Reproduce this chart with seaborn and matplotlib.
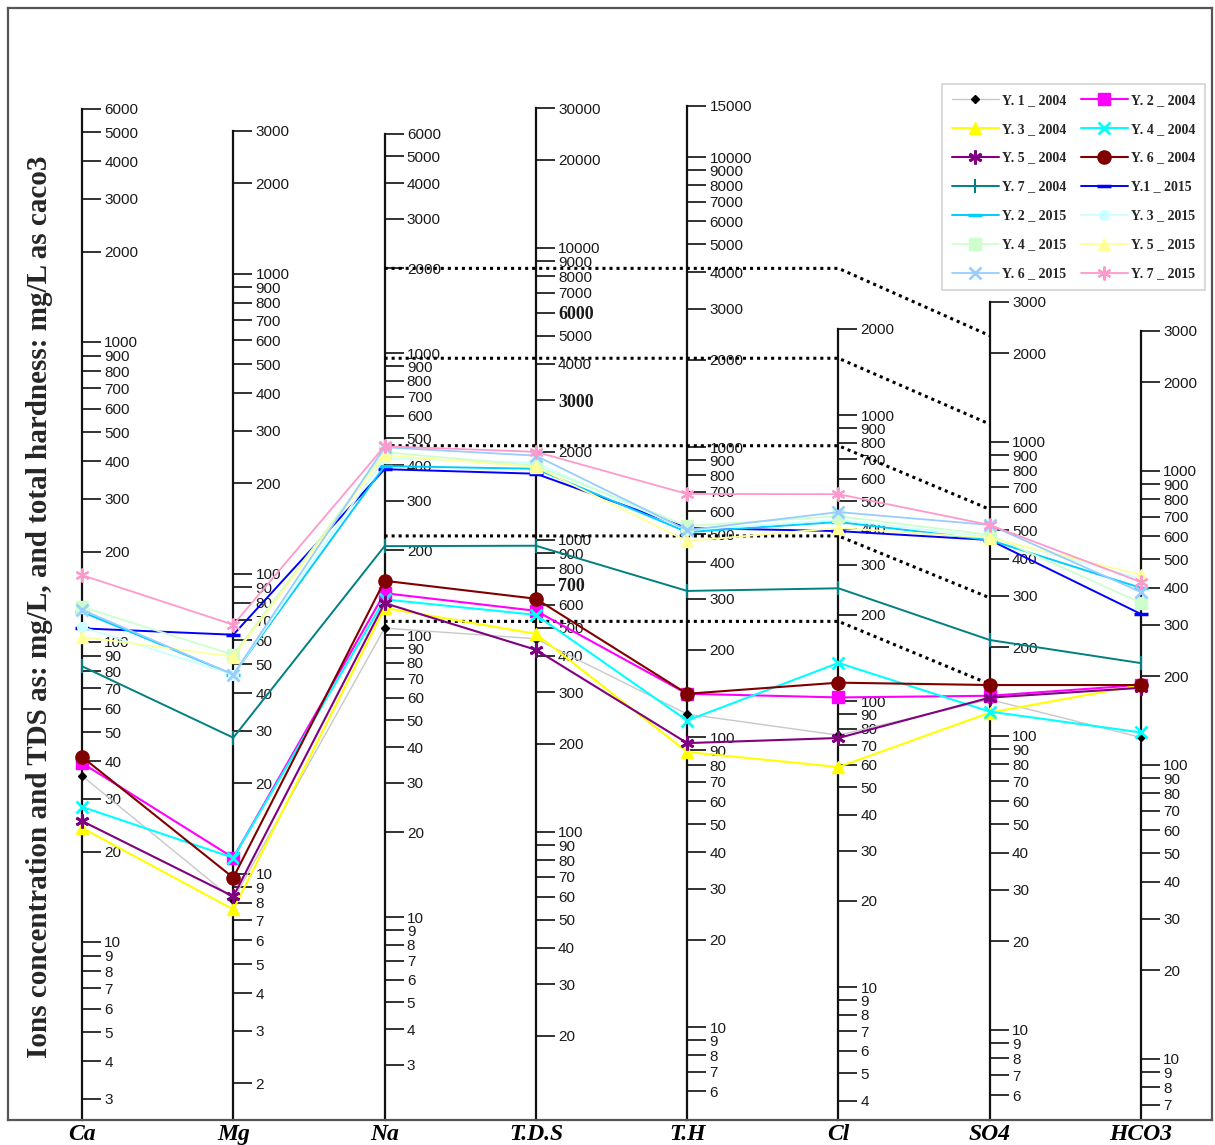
import numpy as np
import matplotlib
matplotlib.use("Agg")
import matplotlib.pyplot as plt
import seaborn as sns
from matplotlib.ticker import FixedLocator, FixedFormatter, NullLocator

# ---------------- data (mg/L, T.H as CaCO3) ----------------
params = ["Ca", "Mg", "Na", "T.D.S", "T.H", "Cl", "SO4", "HCO3"]

y1_2004 = [35.8, 8.2, 106, 458, 120, 76, 133, 124]
y2_2004 = [39.5, 11.3, 141, 571, 141, 103, 137, 187]
y3_2004 = [24.0, 7.6, 125, 476, 88.8, 58.8, 120, 187]
y4_2004 = [28.2, 11.3, 134, 553, 114, 136, 121, 129]
y5_2004 = [25.3, 8.4, 130, 420, 95.3, 74.3, 135, 183]
y6_2004 = [41.4, 9.7, 156, 628, 141, 116, 149, 187]
y7_2004 = [83, 28.4, 207, 954, 319, 248, 212, 222]
y1_2015 = [111, 62.6, 388, 1683, 526, 393, 464, 326]
y2_2015 = [126, 46.1, 398, 1750, 509, 423, 464, 400]
y3_2015 = [112, 46.1, 424, 1836, 517, 430, 475, 430]
y4_2015 = [131, 53.6, 446, 1792, 534, 443, 483, 356]
y5_2015 = [104, 52.9, 435, 1778, 474, 403, 472, 443]
y6_2015 = [128, 46.1, 464, 1941, 517, 458, 522, 387]
y7_2015 = [167, 67.6, 468, 2000, 689, 529, 522, 419]

series_labels = ["Y. 1 _ 2004", "Y. 2 _ 2004", "Y. 3 _ 2004", "Y. 4 _ 2004",
                 "Y. 5 _ 2004", "Y. 6 _ 2004", "Y. 7 _ 2004", "Y.1 _ 2015",
                 "Y. 2 _ 2015", "Y. 3 _ 2015", "Y. 4 _ 2015", "Y. 5 _ 2015",
                 "Y. 6 _ 2015", "Y. 7 _ 2015"]
series_values = [y1_2004, y2_2004, y3_2004, y4_2004, y5_2004, y6_2004, y7_2004,
                 y1_2015, y2_2015, y3_2015, y4_2015, y5_2015, y6_2015, y7_2015]

# guide lines: Na level on the left, SO4 level at the right end
na_guide = [2000, 960, 470, 225, 112]
so4_guide = [2300, 1150, 590, 295, 150]

# ---------------- per-parameter log scales ----------------
axis_lo = [2.55, 1.51, 1.91, 10.3, 4.78, 3.43, 4.94, 6.2]
axis_hi = [6000, 3000, 6000, 30000, 15000, 2000, 3000, 3000]
decade_px = [300, 300, 282, 292, 290, 286, 294, 294]
tick_floor = [3, 2, 3, 20, 6, 4, 6, 7]
extra_ticks = {4: [15000]}

# ---------------- styles ----------------
styles = [
    # color, marker, size, face, edge, mew, lw
    ("#c8c8c8", "D", 4, "black", "black", 1.0, 1.0),
    ("#ff00ff", "s", 8, "#ff00ff", "#ff00ff", 1.0, 1.5),
    ("#ffff00", "^", 9, "#ffff00", "#ffff00", 1.0, 1.5),
    ("#00ffff", "x", 9, "#00ffff", "#00ffff", 2.0, 1.5),
    ("#800080", (6, 2, 0), 10, "#800080", "#800080", 2.0, 1.5),
    ("#800000", "o", 9.5, "#800000", "#800000", 1.0, 1.5),
    ("#008080", "|", 10, "#008080", "#008080", 1.5, 1.4),
    ("#0000ff", "_", 10, "#0000ff", "#0000ff", 2.5, 1.4),
    ("#00ccff", "_", 10, "#00ccff", "#00ccff", 2.5, 1.4),
    ("#ccffff", "o", 7, "#ccffff", "#ccffff", 1.0, 1.3),
    ("#ccffcc", "s", 8, "#ccffcc", "#ccffcc", 1.0, 1.3),
    ("#ffff99", "^", 9, "#ffff99", "#ffff99", 1.0, 1.3),
    ("#99ccff", "x", 9, "#99ccff", "#99ccff", 2.0, 1.3),
    ("#ff99cc", (6, 2, 0), 10, "#ff99cc", "#ff99cc", 1.5, 1.3),
]

sns.set_style("white")
plt.rcParams["font.family"] = ["Liberation Sans", "DejaVu Sans"]

W, H = 1215, 1145
fig = plt.figure(figsize=(W / 100, H / 100), dpi=100)
fig.patch.set_facecolor("white")

frame_left, frame_top, frame_right, frame_bottom = 8, 8, 1212, 1120
ax = fig.add_axes([frame_left / W, (H - frame_bottom) / H,
                   (frame_right - frame_left) / W, (frame_bottom - frame_top) / H])
ax.set_xlim(-0.489, 7.469)
ax.set_ylim(0, 1)
ax.patch.set_alpha(0)
ax.set_zorder(3)
for sp in ax.spines.values():
    sp.set_visible(True)
    sp.set_color("#555555")
    sp.set_linewidth(1.6)
ax.set_yticks([])
ax.set_xticks(range(len(params)))
ax.set_xticklabels(params, fontsize=17, fontstyle="italic", fontweight="bold",
                   family="Liberation Serif")
ax.tick_params(axis="x", length=0, pad=3, colors="black")


def log_ticks(lo, hi):
    out = []
    for k in range(0, 6):
        for n in range(1, 10):
            v = n * 10 ** k
            if lo <= v <= hi:
                out.append(v)
    return out


# one thin log axis per parameter, standing on the bottom of the frame
vaxes = []
for i in range(len(params)):
    xd = ax.transData.transform((i, 0))[0]
    h = decade_px[i] * np.log10(axis_hi[i] / axis_lo[i])
    va = fig.add_axes([xd / W - 1e-4, (H - frame_bottom) / H, 1e-4, h / H])
    va.set_zorder(1)
    va.patch.set_alpha(0)
    va.set_yscale("log")
    va.set_ylim(axis_lo[i], axis_hi[i])
    va.set_xlim(0, 1)
    ticks = sorted(set(log_ticks(tick_floor[i], axis_hi[i]) + extra_ticks.get(i, [])))
    va.yaxis.set_major_locator(FixedLocator(ticks))
    va.yaxis.set_major_formatter(FixedFormatter([str(int(t)) for t in ticks]))
    va.yaxis.set_minor_locator(NullLocator())
    va.yaxis.tick_right()
    va.tick_params(axis="y", which="major", direction="out", length=14, width=1.3,
                   pad=2, labelsize=11, color="#222222", labelcolor="#1a1a1a")
    va.set_xticks([])
    for name, sp in va.spines.items():
        sp.set_visible(name == "right")
    va.spines["right"].set_linewidth(1.6)
    va.spines["right"].set_color("#111111")
    if params[i] == "T.D.S":
        for lbl in va.get_yticklabels():
            if lbl.get_text() in ("6000", "3000", "700"):
                lbl.set_fontfamily("Liberation Serif")
                lbl.set_fontweight("bold")
                lbl.set_fontsize(13)
    vaxes.append(va)


def to_frame(i, v):
    disp = vaxes[i].transData.transform((1.0, v))
    return ax.transData.inverted().transform(disp)[1]


# dotted guide lines (Na -> Cl horizontal, then down to SO4)
for na_v, so4_v in zip(na_guide, so4_guide):
    y0 = to_frame(2, na_v)
    y1 = to_frame(6, so4_v)
    ax.plot([2, 5, 6], [y0, y0, y1], color="black", lw=2.2,
            linestyle=(0, (1, 1.3)), zorder=1.5)

# data lines
handles = []
xs = np.arange(len(params))
for lab, vals, st in zip(series_labels, series_values, styles):
    color, mk, ms, mfc, mec, mew, lw = st
    ys = np.array([to_frame(i, v) for i, v in enumerate(vals)])
    sns.lineplot(x=xs, y=ys, ax=ax, color=color, marker=mk, markersize=ms,
                 markerfacecolor=mfc, markeredgecolor=mec, markeredgewidth=mew,
                 linewidth=lw, label=lab, legend=False, sort=False, zorder=2)
    handles.append(ax.lines[-1])

order = [0, 2, 4, 6, 8, 10, 12, 1, 3, 5, 7, 9, 11, 13]
leg = ax.legend([handles[k] for k in order], [series_labels[k] for k in order],
                ncol=2, loc="upper left",
                bbox_to_anchor=(935 / W, 1 - 77 / H), bbox_transform=fig.transFigure,
                prop={"family": "Liberation Serif", "weight": "bold", "size": 10},
                frameon=True, fancybox=False, edgecolor="#c8c8c8",
                handlelength=3.4, labelspacing=1.15, columnspacing=1.0,
                handletextpad=0.25, borderpad=0.7, numpoints=1)
leg.get_frame().set_linewidth(1.2)

fig.text(40 / W, 1 - 607 / H,
         "Ions concentration and TDS as: mg/L, and total hardness: mg/L as caco3",
         rotation=90, ha="center", va="center", fontsize=21, fontweight="bold",
         family="Liberation Serif")

fig.savefig("out.png", dpi=100, facecolor="white")
